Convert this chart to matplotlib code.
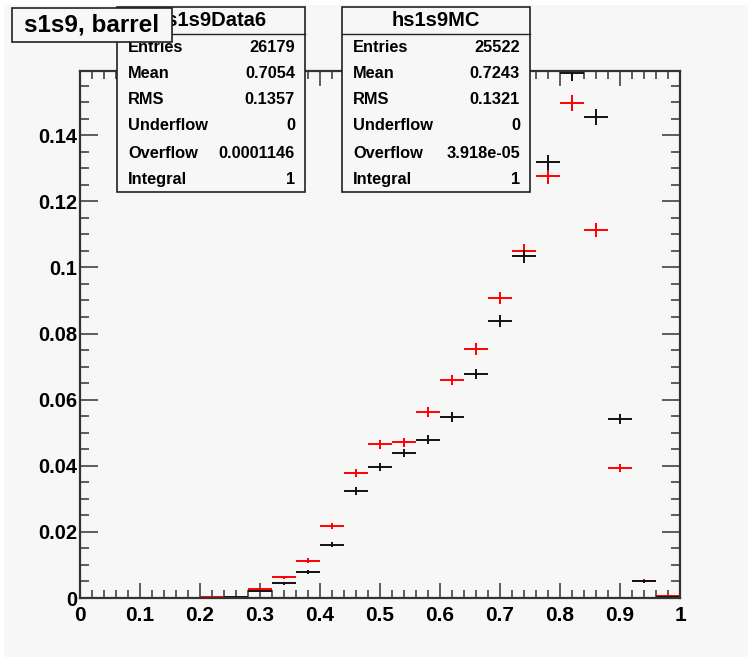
import numpy as np
import matplotlib
matplotlib.use("Agg")
import matplotlib.pyplot as plt
from matplotlib.patches import Rectangle
from matplotlib.ticker import MultipleLocator

# normalised s1s9 distributions, 25 bins on [0, 1]
bin_lo, bin_hi, n_bins = 0.0, 1.0, 25
data6 = [0, 0, 0, 0, 0, 0.0001, 0.0004, 0.0020, 0.0044, 0.0079, 0.0161, 0.0324,
         0.0397, 0.0438, 0.0478, 0.0548, 0.0677, 0.0838, 0.1034, 0.1318, 0.1587,
         0.1455, 0.0541, 0.0051, 0.0004]
mc = [0, 0, 0, 0, 0, 0.0003, 0.0004, 0.0026, 0.0063, 0.0113, 0.0217, 0.0377,
      0.0465, 0.0471, 0.0563, 0.0659, 0.0753, 0.0907, 0.1049, 0.1276, 0.1497,
      0.1113, 0.0393, 0.0052, 0.0005]

stats_labels = ["Entries", "Mean", "RMS", "Underflow", "Overflow", "Integral"]
data6_stats = ["26179", "0.7054", "0.1357", "0", "0.0001146", "1"]
mc_stats = ["25522", "0.7243", "0.1321", "0", "3.918e-05", "1"]
data6_entries, mc_entries = 26179, 25522

W, H = 748, 659
bg = "#f7f7f7"
font = ["Liberation Sans", "DejaVu Sans"]

fig = plt.figure(figsize=(W / 100, H / 100), dpi=100, facecolor="white")
fig.patches.append(Rectangle((4 / W, 2 / H), 1, 1 - 7 / H, transform=fig.transFigure,
                             facecolor=bg, edgecolor="none", zorder=-10))

ax = fig.add_axes([80 / W, 1 - 598 / H, 600 / W, 527 / H])
ax.set_facecolor(bg)

edges = np.linspace(bin_lo, bin_hi, n_bins + 1)
centers = 0.5 * (edges[:-1] + edges[1:])
half = 0.5 * (edges[1] - edges[0])


def draw(vals, entries, color):
    v = np.array(vals, dtype=float)
    m = v > 0
    err = np.sqrt(v / entries)
    ax.errorbar(centers[m], v[m], xerr=half, yerr=err[m], fmt="none",
                ecolor=color, elinewidth=1.4, capsize=0)


draw(mc, mc_entries, "#ff0000")
draw(data6, data6_entries, "#111111")

ax.set_xlim(0, 1)
ax.set_ylim(0, 0.1594)
ax.xaxis.set_minor_locator(MultipleLocator(0.02))
ax.yaxis.set_minor_locator(MultipleLocator(0.005))
ax.set_xticks(np.arange(0, 1.01, 0.1))
ax.set_xticklabels(["0", "0.1", "0.2", "0.3", "0.4", "0.5", "0.6", "0.7", "0.8", "0.9", "1"])
ax.set_yticks(np.arange(0, 0.141, 0.02))
ax.set_yticklabels(["0", "0.02", "0.04", "0.06", "0.08", "0.1", "0.12", "0.14"])

ax.tick_params(axis="x", which="both", direction="in", top=True, bottom=True,
               width=1.1, color="#333333", pad=6)
ax.tick_params(axis="x", which="major", length=10.8)
ax.tick_params(axis="x", which="minor", length=5.8)
ax.tick_params(axis="y", which="both", direction="in", left=True, right=True,
               width=1.1, color="#333333", pad=2)
ax.tick_params(axis="y", which="major", length=13)
ax.tick_params(axis="y", which="minor", length=6.5)
for lab in ax.get_xticklabels():
    lab.set_family(font)
    lab.set_fontweight("bold")
    lab.set_fontsize(15)
for lab in ax.get_yticklabels():
    lab.set_family(font)
    lab.set_fontweight("bold")
    lab.set_fontsize(14.5)
for sp in ax.spines.values():
    sp.set_linewidth(1.6)
    sp.set_color("#333333")


def px(x, y):
    return x / W, 1 - y / H


def box(x0, x1, y0, y1, z):
    r = Rectangle(px(x0, y1), (x1 - x0) / W, (y1 - y0) / H, transform=fig.transFigure,
                  facecolor=bg, edgecolor="#222222", linewidth=1.2, zorder=z)
    fig.patches.append(r)


def stats_box(x0, x1, title, values):
    box(x0, x1, 7, 192, 5)
    fig.add_artist(plt.Line2D([x0 / W, x1 / W], [1 - 34 / H] * 2, transform=fig.transFigure,
                              color="#222222", linewidth=1.0, zorder=6))
    fig.text(*px((x0 + x1) / 2, 21), title, ha="center", va="center", fontsize=14.5,
             fontweight="bold", family=font, zorder=7)
    rows = [47.5, 73, 99, 126, 153, 180]
    for yy, name, val in zip(rows, stats_labels, values):
        fig.text(*px(x0 + 11, yy), name, ha="left", va="center", fontsize=11.8,
                 fontweight="bold", family=font, zorder=7)
        fig.text(*px(x1 - 10, yy), val, ha="right", va="center", fontsize=11.8,
                 fontweight="bold", family=font, zorder=7)


stats_box(117, 305, "hs1s9Data6", data6_stats)
stats_box(342, 530, "hs1s9MC", mc_stats)

# title pad sits on top of the first stats box, as in the original canvas
box(12, 172, 8, 42, 10)
fig.text(*px(92, 25), "s1s9, barrel", ha="center", va="center", fontsize=17.5,
         fontweight="bold", family=font, zorder=11)

fig.savefig("out.png", dpi=100, facecolor="white")
